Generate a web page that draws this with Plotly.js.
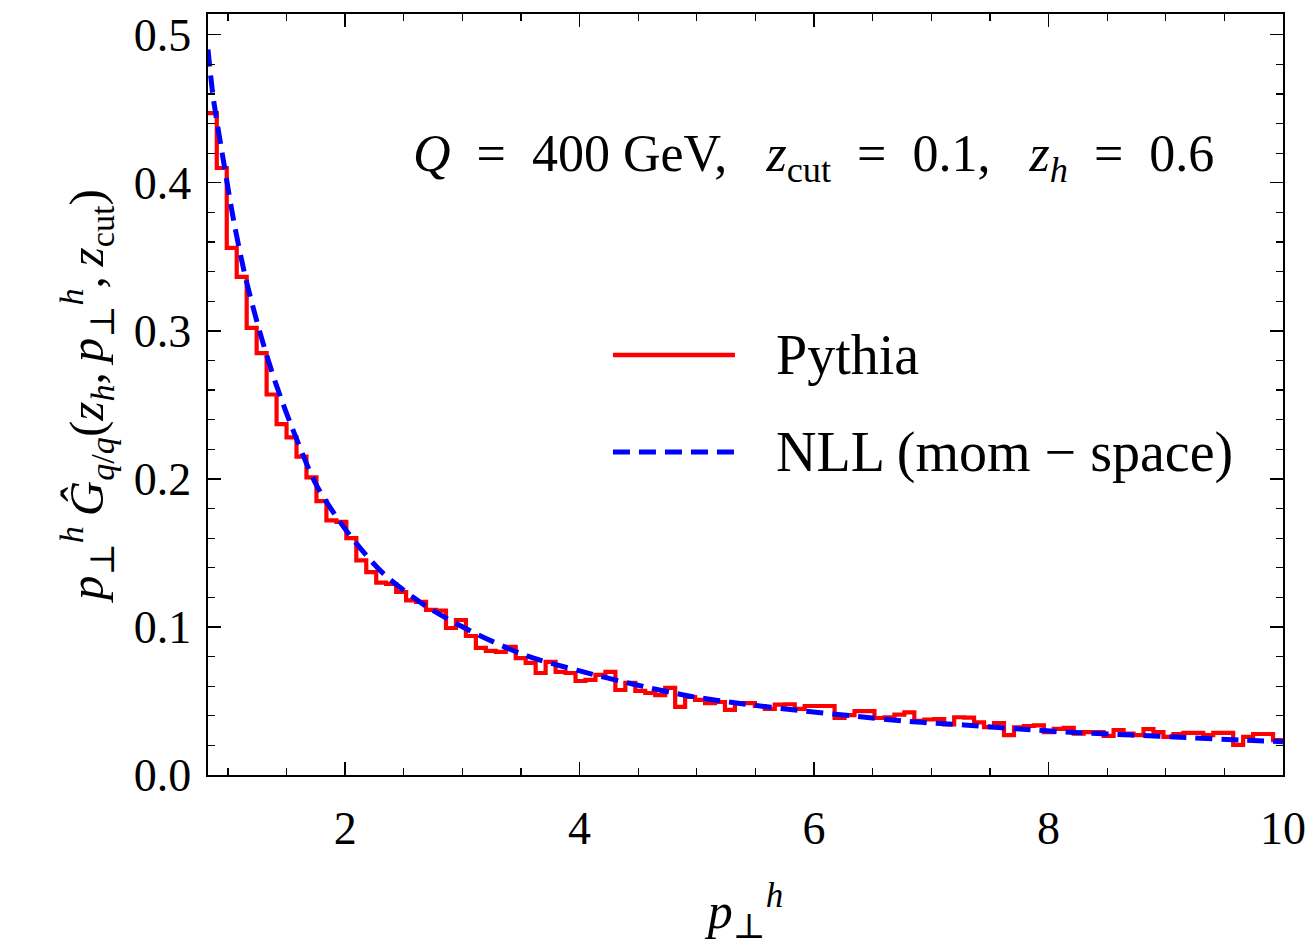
<!DOCTYPE html>
<html>
<head>
<meta charset="utf-8">
<script src="https://cdn.plot.ly/plotly-3.0.1.min.js"></script>
<style>html,body{margin:0;padding:0;background:#fff;}</style>
</head>
<body>
<div id="chart" style="width:1311px;height:947px;"></div>
<script>
// Pythia histogram: bin start and width, then bin heights
const pythiaBinStart = 0.82;
const pythiaBinWidth = 0.085;
const pythiaValues = [
  0.447, 0.410, 0.356, 0.3365, 0.302, 0.285, 0.257, 0.237, 0.228, 0.215,
  0.201, 0.185, 0.172, 0.171, 0.160, 0.145, 0.137, 0.130, 0.129, 0.1236,
  0.118, 0.117, 0.1115, 0.111, 0.0993, 0.1047, 0.0939, 0.0858, 0.0838, 0.0831,
  0.0865, 0.079, 0.0757, 0.0689, 0.0764, 0.0696, 0.0689, 0.0635, 0.0642, 0.0676,
  0.0696, 0.0574, 0.0622, 0.0568, 0.0554, 0.054, 0.0588, 0.046, 0.0527, 0.0507,
  0.0486, 0.0493, 0.044, 0.0486, 0.0486, 0.0466, 0.0446, 0.0475, 0.0478, 0.0446,
  0.0466, 0.0466, 0.0466, 0.0385, 0.0405, 0.0432, 0.0432, 0.0385, 0.039, 0.0408,
  0.0423, 0.0365, 0.0375, 0.0378, 0.0341, 0.039, 0.0388, 0.0355, 0.0324, 0.0351,
  0.027, 0.0322, 0.0331, 0.0335, 0.029, 0.0312, 0.0318, 0.028, 0.029, 0.029,
  0.0264, 0.0304, 0.028, 0.027, 0.031, 0.029, 0.0257, 0.0277, 0.0284, 0.0284,
  0.027, 0.0284, 0.0284, 0.0203, 0.0257, 0.0277, 0.0277, 0.0236
];

// NLL (momentum space) curve
const nllX = [0.83, 0.874, 0.972, 1.05, 1.15, 1.28, 1.41, 1.58, 1.76, 2.02,
  2.32, 2.70, 3.12, 3.55, 4.0, 4.45, 4.93, 5.40, 5.87, 6.33,
  6.81, 7.28, 7.75, 8.23, 8.71, 9.17, 9.64, 10.0];
const nllY = [0.490, 0.458, 0.410, 0.374, 0.336, 0.297, 0.264, 0.228, 0.195, 0.164,
  0.1365, 0.1135, 0.0953, 0.0804, 0.0703, 0.0615, 0.0534, 0.048, 0.0436, 0.0399,
  0.0361, 0.0338, 0.0311, 0.0287, 0.027, 0.0253, 0.0236, 0.0225];

const xTickVals = [2, 4, 6, 8, 10];
const yTickVals = [0.0, 0.1, 0.2, 0.3, 0.4, 0.5];
const legendNames = ['Pythia', 'NLL (mom \u2212 space)'];

const FONT = '"Liberation Serif", "DejaVu Serif", serif';
const RED = '#ff0000';
const BLUE = '#0000ff';
const DASH = '17px,9px';

// close the last bin with its own height
const pythiaY = pythiaValues.concat([pythiaValues[pythiaValues.length - 1]]);

const traces = [
  {
    type: 'scatter', mode: 'lines', name: legendNames[0],
    x0: pythiaBinStart, dx: pythiaBinWidth, y: pythiaY,
    line: {color: RED, width: 4.2, shape: 'hv'},
    showlegend: false, hoverinfo: 'skip'
  },
  {
    type: 'scatter', mode: 'lines', name: legendNames[1],
    x: nllX, y: nllY,
    line: {color: BLUE, width: 5, dash: DASH, shape: 'spline', smoothing: 0.8},
    showlegend: false, hoverinfo: 'skip'
  }
];

const axisCommon = {
  showline: true, linecolor: '#000', linewidth: 1.6,
  mirror: 'ticks', ticks: 'inside', ticklen: 13, tickwidth: 1.4, tickcolor: '#000',
  showgrid: false, zeroline: false,
  tickfont: {family: FONT, size: 46, color: '#000'}
};

// legend drawn as paper-anchored samples + labels
const legX0 = 0.3767, legX1 = 0.4902, legTextX = 0.5265;
const legY = [0.5519, 0.4244];
const LEGSIZE = 56;

const layout = {
  width: 1311, height: 947,
  margin: {l: 208, r: 28, t: 14, b: 172},
  paper_bgcolor: '#fff', plot_bgcolor: '#fff',
  font: {family: FONT, color: '#000'},
  xaxis: Object.assign({}, axisCommon, {
    range: [0.83, 10], tickvals: xTickVals, ticktext: xTickVals.map(String),
    ticklabelstandoff: 12,
    minor: {dtick: 0.5, tick0: 0, ticks: 'inside', ticklen: 7, tickwidth: 1.2, tickcolor: '#000', showgrid: false},
    title: {text: '<i>p</i><sub>\u22a5</sub><sup><i>h</i></sup>', font: {family: FONT, size: 50, color: '#000'}, standoff: 40}
  }),
  yaxis: Object.assign({}, axisCommon, {
    range: [0, 0.514], tickvals: yTickVals, ticktext: yTickVals.map(v => v.toFixed(1)),
    ticklabelstandoff: 6,
    minor: {dtick: 0.02, tick0: 0, ticks: 'inside', ticklen: 7, tickwidth: 1.2, tickcolor: '#000', showgrid: false},
    title: {text: '<i>p</i><sub>\u22a5</sub><sup><i>h</i></sup>\u2009<i>\u011c</i><sub><i>q</i>/<i>q</i></sub>(<i>z<sub>h</sub></i>,\u2009<i>p</i><sub>\u22a5</sub><sup><i>h</i></sup>,\u2009<i>z</i><sub>cut</sub>)',
      font: {family: FONT, size: 49, color: '#000'}, standoff: 14}
  }),
  shapes: [
    {type: 'line', xref: 'paper', yref: 'paper', x0: legX0, x1: legX1, y0: legY[0], y1: legY[0],
     line: {color: RED, width: 4.5}},
    {type: 'line', xref: 'paper', yref: 'paper', x0: legX0, x1: legX1, y0: legY[1], y1: legY[1],
     line: {color: BLUE, width: 5, dash: DASH}}
  ],
  annotations: [
    {xref: 'paper', yref: 'paper', x: legTextX, y: legY[0], xanchor: 'left', yanchor: 'middle',
     text: legendNames[0], showarrow: false, font: {family: FONT, size: LEGSIZE, color: '#000'}},
    {xref: 'paper', yref: 'paper', x: legTextX, y: legY[1], xanchor: 'left', yanchor: 'middle',
     text: legendNames[1], showarrow: false, font: {family: FONT, size: LEGSIZE, color: '#000'}},
    {xref: 'paper', yref: 'paper', x: 0.5637, y: 0.8108, xanchor: 'center', yanchor: 'middle',
     text: '<i>Q</i>\u2002=\u2002400 GeV,\u2002 <i>z</i><sub>cut</sub>\u2002=\u20020.1,\u2002 <i>z<sub>h</sub></i>\u2002=\u20020.6',
     showarrow: false, font: {family: FONT, size: 52, color: '#000'}}
  ]
};

Plotly.newPlot('chart', traces, layout, {displayModeBar: false, staticPlot: true});
</script>
</body>
</html>
